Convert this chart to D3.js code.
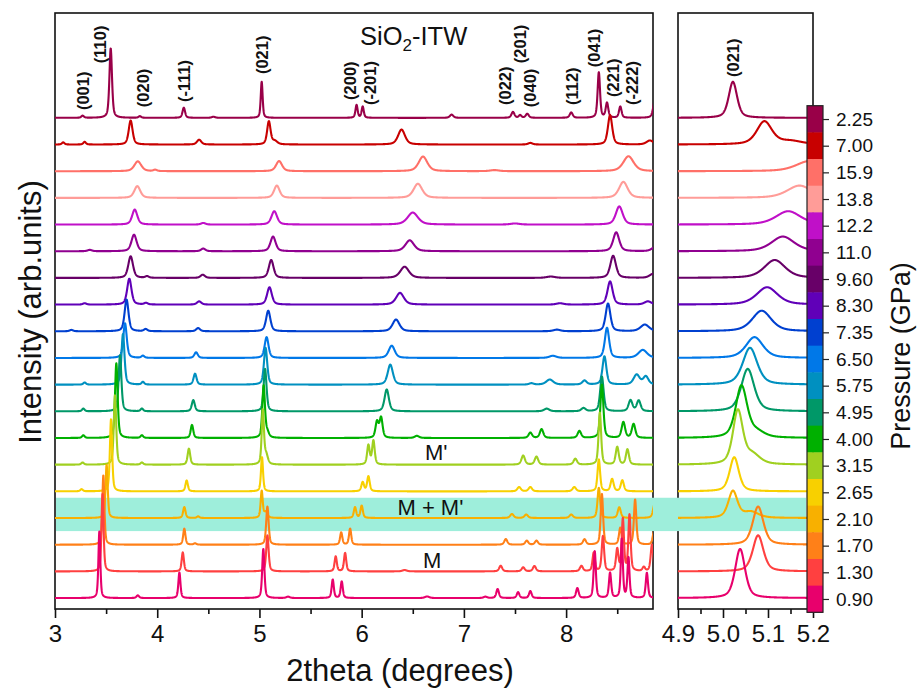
<!DOCTYPE html>
<html><head><meta charset="utf-8">
<script src="https://cdn.jsdelivr.net/npm/d3@7"></script>
<style>body{margin:0;background:#fff}svg{display:block}text{font-family:"Liberation Sans",Arial,sans-serif}</style>
</head><body>
<svg id="c" width="919" height="690"></svg>
<script>
// ---------- DATA ----------
const pressures = ["2.25","7.00","15.9","13.8","12.2","11.0","9.60","8.30","7.35","6.50","5.75","4.95","4.00","3.15","2.65","2.10","1.70","1.30","0.90"];
const palette = ["#990048","#c80000","#ff7068","#ff9c98","#c010c8","#900090","#680068","#6000b8","#0040d0","#0078e8","#0090c0","#009868","#00b000","#a0d020","#f8d000","#f8b000","#ff8018","#ff4040","#e8006c"];
// peaks: [2theta, intensity (trace-spacing units), FWHM]
const p225 = [[3.27,0.08,0.03],[3.545,2.6,0.03],[3.83,0.06,0.03],[4.26,0.38,0.03],[4.55,0.04,0.04],[5.022,1.35,0.022],[5.95,0.48,0.025],[6.01,0.42,0.025],[6.88,0.12,0.04],[7.48,0.22,0.035],[7.55,0.1,0.03],[7.62,0.15,0.035],[8.05,0.2,0.035],[8.32,1.7,0.028],[8.40,0.55,0.03],[8.53,0.42,0.03],[8.87,0.7,0.04]];
const p700 = [[3.08,0.08,0.03],[3.29,0.1,0.03],[3.74,0.9,0.045],[4.41,0.18,0.05],[5.092,0.86,0.04],[5.15,0.12,0.06],[6.39,0.56,0.08],[7.65,0.06,0.05],[8.43,1.1,0.05],[8.82,0.15,0.08]];
const p159 = [[3.81,0.37,0.08],[3.98,0.05,0.04],[5.192,0.38,0.07],[6.6,0.55,0.1],[7.3,0.04,0.1],[8.61,0.56,0.12]];
const p138 = [[3.805,0.44,0.07],[5.17,0.46,0.065],[6.55,0.53,0.1],[8.56,0.6,0.1]];
const p122 = [[3.78,0.56,0.06],[4.45,0.06,0.05],[5.145,0.5,0.065],[6.5,0.45,0.12],[7.5,0.04,0.1],[8.52,0.68,0.08]];
const p110 = [[3.34,0.05,0.05],[3.773,0.62,0.06],[4.45,0.1,0.05],[5.133,0.55,0.06],[6.47,0.41,0.1],[8.49,0.71,0.07],[8.87,0.15,0.08]];
const p960 = [[3.74,0.81,0.055],[3.9,0.06,0.04],[4.445,0.12,0.05],[5.115,0.67,0.055],[6.42,0.42,0.1],[7.85,0.05,0.1],[8.46,0.83,0.065],[8.85,0.15,0.08]];
const p830 = [[3.29,0.05,0.04],[3.727,0.97,0.05],[3.89,0.06,0.04],[4.41,0.12,0.05],[5.098,0.65,0.055],[6.375,0.44,0.09],[7.94,0.05,0.08],[8.43,0.87,0.06],[8.8,0.12,0.08]];
const p735 = [[3.16,0.05,0.04],[3.70,1.19,0.045],[3.887,0.08,0.04],[4.40,0.12,0.045],[5.086,0.77,0.05],[6.336,0.44,0.08],[7.91,0.06,0.08],[8.41,1.04,0.055],[8.77,0.25,0.1]];
const p650 = [[3.685,1.3,0.04],[3.86,0.08,0.035],[4.38,0.21,0.04],[5.07,0.78,0.045],[6.294,0.46,0.07],[7.87,0.08,0.08],[8.40,1.13,0.05],[8.75,0.3,0.1]];
const p575 = [[3.29,0.08,0.03],[3.665,1.9,0.035],[3.86,0.1,0.03],[4.37,0.41,0.035],[5.06,1.38,0.038],[6.28,0.75,0.06],[7.66,0.05,0.05],[7.84,0.19,0.08],[8.18,0.15,0.05],[8.375,1.06,0.045],[8.69,0.37,0.07],[8.78,0.3,0.06]];
const p495 = [[3.277,0.1,0.03],[3.636,2.1,0.032],[3.85,0.1,0.03],[4.353,0.42,0.035],[5.055,1.59,0.034],[6.245,0.82,0.05],[7.81,0.1,0.06],[8.17,0.12,0.05],[8.35,1.3,0.04],[8.63,0.41,0.045],[8.71,0.4,0.045]];
const p400 = [[3.277,0.1,0.03],[3.60,2.8,0.03],[3.85,0.1,0.03],[4.34,0.49,0.03],[5.041,1.94,0.03],[5.075,0.2,0.04],[6.15,0.6,0.035],[6.19,0.75,0.035],[6.54,0.08,0.05],[7.65,0.2,0.04],[7.76,0.33,0.04],[8.13,0.26,0.04],[8.35,2.0,0.035],[8.56,0.59,0.04],[8.66,0.52,0.04]];
const p315 = [[3.27,0.08,0.03],[3.587,2.6,0.028],[3.85,0.08,0.03],[4.31,0.6,0.03],[5.033,2.0,0.026],[5.065,0.35,0.04],[6.066,0.72,0.03],[6.115,0.89,0.03],[7.58,0.34,0.04],[7.71,0.3,0.04],[8.09,0.22,0.04],[8.33,1.95,0.03],[8.50,0.66,0.035],[8.60,0.57,0.035]];
const p265 = [[3.26,0.08,0.03],[3.548,2.7,0.026],[4.288,0.41,0.028],[5.025,1.28,0.024],[6.01,0.34,0.03],[6.066,0.56,0.03],[7.54,0.16,0.04],[7.65,0.16,0.04],[8.08,0.16,0.04],[8.32,1.19,0.03],[8.45,0.46,0.035],[8.55,0.41,0.035]];
const p210 = [[3.505,2.0,0.025],[4.265,0.41,0.028],[4.40,0.06,0.03],[5.022,1.0,0.024],[5.062,0.22,0.04],[5.935,0.4,0.028],[6.0,0.46,0.028],[7.47,0.15,0.04],[7.61,0.13,0.04],[8.05,0.13,0.04],[8.32,1.13,0.03],[8.52,0.4,0.035],[8.87,0.6,0.04]];
const p170 = [[3.473,2.6,0.024],[4.265,0.6,0.026],[4.37,0.05,0.03],[5.078,1.43,0.028],[5.80,0.46,0.026],[5.887,0.6,0.026],[7.41,0.21,0.035],[7.615,0.15,0.035],[7.71,0.15,0.035],[8.18,0.2,0.035],[8.35,1.9,0.028],[8.53,0.63,0.03],[8.675,1.69,0.028],[8.86,0.5,0.03]];
const p130 = [[3.465,2.9,0.024],[4.25,0.71,0.026],[5.078,1.35,0.028],[5.746,0.56,0.026],[5.838,0.69,0.026],[6.42,0.05,0.05],[7.36,0.21,0.035],[7.58,0.15,0.035],[7.69,0.2,0.035],[8.15,0.2,0.035],[8.27,0.69,0.028],[8.36,1.31,0.028],[8.50,0.81,0.028],[8.555,1.94,0.026],[8.62,2.1,0.026],[8.76,0.15,0.03],[8.84,1.0,0.03]];
const p090 = [[3.434,2.5,0.022],[3.81,0.1,0.03],[4.217,0.96,0.024],[5.038,1.84,0.026],[5.28,0.05,0.04],[5.717,0.69,0.025],[5.805,0.62,0.025],[6.64,0.06,0.05],[7.21,0.05,0.04],[7.33,0.34,0.03],[7.53,0.22,0.03],[7.65,0.26,0.03],[8.11,0.37,0.03],[8.28,1.75,0.026],[8.43,0.94,0.026],[8.545,2.2,0.024],[8.61,1.5,0.024],[8.79,0.94,0.026]];
const patterns = [p225,p700,p159,p138,p122,p110,p960,p830,p735,p650,p575,p495,p400,p315,p265,p210,p170,p130,p090];

const millerLabels = ["(001)","(110)","(020)","(-111)","(021)","(200)","(-201)","(022)","(201)","(040)","(112)","(041)","(221)","(-222)"];
const millerPos    = [3.274,3.44,3.861,4.262,5.025,5.886,6.082,7.402,7.549,7.647,8.058,8.273,8.459,8.645];
const millerLevel  = [18.29,20.05,18.40,18.59,19.64,18.67,18.48,18.48,20.05,18.40,18.48,19.90,18.78,18.48];
const zoomLabel = "(021)", zoomPos = 5.022, zoomLevel = 19.53;
const phaseLabels = ["M'","M + M'","M"];
const phasePos = [6.62,6.35,6.6];
const phaseLevel = [5.17,3.11,1.13];
const xTicksL = [3,4,5,6,7,8], xMinorL = [3.5,4.5,5.5,6.5,7.5,8.5];
const xTicksR = [4.9,5.0,5.1,5.2], xMinorR = [4.95,5.05,5.15];

// ---------- DRAW ----------
const svg = d3.select("#c");
const L = {l:55,r:653,t:13,b:609}, R = {l:678,r:813,t:13,b:609};
const xL = d3.scaleLinear().domain([3,8.85]).range([L.l,L.r]);
const xR = d3.scaleLinear().domain([4.9,5.2]).range([R.l,R.r]);
const y = d3.scaleLinear().domain([-0.41,21.93]).range([L.b,L.t]);
const n = patterns.length;

function profile(peaks, x){
  let s = 0;
  for (const [c,a,w] of peaks){
    const t = (x-c)/w, t2 = 4*t*t;
    s += a*(0.5/(1+t2) + 0.5*Math.exp(-Math.LN2*t2));
  }
  return s;
}

const defs = svg.append("defs");
defs.append("clipPath").attr("id","clipL").append("rect").attr("x",L.l).attr("y",L.t).attr("width",L.r-L.l).attr("height",L.b-L.t);
defs.append("clipPath").attr("id","clipR").append("rect").attr("x",R.l).attr("y",R.t).attr("width",R.r-R.l).attr("height",R.b-R.t);

// frames
[L,R].forEach(P=>{
  svg.append("rect").attr("x",P.l).attr("y",P.t).attr("width",P.r-P.l).attr("height",P.b-P.t)
    .attr("fill","none").attr("stroke","#111").attr("stroke-width",1.6);
});

// highlight band (M + M')
const bandOff = n-1-pressures.indexOf("2.10");
svg.append("rect").attr("x",L.l+1).attr("y",y(bandOff+0.76)).attr("width",806-L.l-1)
  .attr("height",y(bandOff-0.49)-y(bandOff+0.76)).attr("fill","#9eeedb");

// traces
const gL = svg.append("g").attr("clip-path","url(#clipL)");
const gR = svg.append("g").attr("clip-path","url(#clipR)");
const gridL = d3.range(3,8.861,0.0015), gridR = d3.range(4.9,5.2005,0.0005);
patterns.forEach((pk,i)=>{
  const off = n-1-i;
  const lineL = d3.line().x(d=>xL(d)).y(d=>y(off+profile(pk,d)));
  const lineR = d3.line().x(d=>xR(d)).y(d=>y(off+profile(pk,d)));
  gL.append("path").attr("d",lineL(gridL)).attr("fill","none").attr("stroke",palette[i]).attr("stroke-width",2.1).attr("stroke-linejoin","round");
  gR.append("path").attr("d",lineR(gridR)).attr("fill","none").attr("stroke",palette[i]).attr("stroke-width",2.1).attr("stroke-linejoin","round");
});

// axes
function bottomAxis(scale, major, minor, fmt){
  const g = svg.append("g").attr("transform",`translate(0,${L.b})`);
  g.call(d3.axisBottom(scale).tickValues(major).tickSize(9).tickPadding(7).tickFormat(fmt))
   .call(s=>s.select(".domain").remove())
   .call(s=>s.selectAll("line").attr("stroke","#111").attr("stroke-width",1.6))
   .call(s=>s.selectAll("text").attr("font-size",24).attr("fill","#111").attr("font-family","Liberation Sans, Arial, sans-serif"));
  const g2 = svg.append("g").attr("transform",`translate(0,${L.b})`);
  g2.call(d3.axisBottom(scale).tickValues(minor).tickSize(5).tickFormat(""))
   .call(s=>s.select(".domain").remove())
   .call(s=>s.selectAll("line").attr("stroke","#111").attr("stroke-width",1.6));
}
bottomAxis(xL, xTicksL, xMinorL, d3.format("d"));
bottomAxis(xR, xTicksR, xMinorR, d3.format(".1f"));

// miller labels
millerLabels.forEach((t,i)=>{
  svg.append("text").attr("transform",`translate(${xL(millerPos[i])},${y(millerLevel[i])}) rotate(-90)`)
    .attr("dy","0.36em").attr("font-size",16.5).attr("font-weight","bold").attr("fill","#111").text(t);
});
svg.append("text").attr("transform",`translate(${xR(zoomPos)},${y(zoomLevel)}) rotate(-90)`)
  .attr("dy","0.36em").attr("font-size",16.5).attr("font-weight","bold").attr("fill","#111").text(zoomLabel);

// phase labels
phaseLabels.forEach((t,i)=>{
  svg.append("text").attr("x",xL(phasePos[i])).attr("y",y(phaseLevel[i])).attr("font-size",22).attr("fill","#111").text(t);
});

// title
const tt = svg.append("text").attr("x",360).attr("y",45).attr("font-size",25.5).attr("fill","#111");
tt.append("tspan").text("SiO");
tt.append("tspan").attr("font-size",17).attr("dy",6).text("2");
tt.append("tspan").attr("dy",-6).text("-ITW");

// axis titles
svg.append("text").attr("x",400).attr("y",681).attr("text-anchor","middle").attr("font-size",31).attr("fill","#111").text("2theta (degrees)");
svg.append("text").attr("transform","translate(41,312) rotate(-90)").attr("text-anchor","middle").attr("font-size",31).attr("fill","#111").text("Intensity (arb.units)");

// colorbar
const cb = d3.scaleBand().domain(d3.range(n)).range([105.7,612.3]);
const cbx = 807, cbw = 16;
svg.append("g").selectAll("rect").data(pressures).join("rect")
  .attr("x",cbx).attr("y",(d,i)=>cb(i)).attr("width",cbw).attr("height",cb.bandwidth()+0.5)
  .attr("fill",(d,i)=>palette[i]);
svg.append("rect").attr("x",cbx).attr("y",105.7).attr("width",cbw).attr("height",612.3-105.7).attr("fill","none").attr("stroke","#222").attr("stroke-width",1.2);
const cbScale = d3.scalePoint().domain(d3.range(n)).range([105.7+cb.bandwidth()/2, 612.3-cb.bandwidth()/2]);
svg.append("g").attr("transform",`translate(${cbx+cbw},0)`)
  .call(d3.axisRight(cbScale).tickSize(6).tickPadding(7).tickFormat(i=>pressures[i]))
  .call(s=>s.select(".domain").remove())
  .call(s=>s.selectAll("line").attr("stroke","#222").attr("stroke-width",1.2))
  .call(s=>s.selectAll("text").attr("font-size",19).attr("fill","#111").attr("font-family","Liberation Sans, Arial, sans-serif"));
svg.append("text").attr("transform","translate(910,356) rotate(-90)").attr("text-anchor","middle").attr("font-size",27).attr("fill","#111").text("Pressure (GPa)");
</script>
</body></html>
